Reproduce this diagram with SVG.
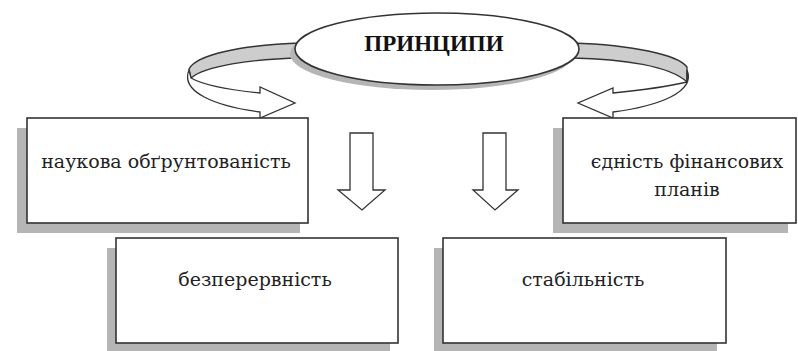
<svg xmlns="http://www.w3.org/2000/svg" width="798" height="351" viewBox="0 0 798 351">
<style>
.box{fill:#fff;stroke:#333;stroke-width:1.6}
.shadow{fill:#b5b5b5}
.arr{fill:#fff;stroke:#333;stroke-width:1.3;stroke-linejoin:miter}
.back{fill:#cdcdcd;stroke:#333;stroke-width:1.3}
.t{font-family:"DejaVu Serif","Liberation Serif",serif;font-size:19px;fill:#222;text-anchor:middle}
.title{font-family:"Liberation Serif","Times New Roman",serif;font-size:23px;font-weight:bold;fill:#111;text-anchor:middle}
</style>
<rect width="798" height="351" fill="#fff"/>
<g id="connectors">
  <path class="back" d="M 302 43 C 240 45 196 55 189 69 L 191 78 C 205 66 250 59 302 58 Z"/>
  <path class="arr" d="M 189 70 C 180 92 215 106 260 112 L 260 118 L 295 103 L 260 87 L 260 93 C 230 90 205 86 191 78 Z"/>
  <path class="back" d="M 572 43 C 634 45 678 55 687 67 L 687 82 C 670 66 624 59 572 58 Z"/>
  <path class="arr" d="M 687 70 C 696 92 659 106 613 112 L 613 118 L 578 103 L 613 88 L 613 93 C 643 90 670 86 687 82 Z"/>
  <polygon class="arr" points="350,133 373,133 373,190 385,190 362,210 338,190 350,190"/>
  <polygon class="arr" points="483,133 506,133 506,190 518,190 495,210 473,190 483,190"/>
</g>
<g id="principles">
  <ellipse cx="432" cy="54" rx="142" ry="36" class="shadow"/>
  <ellipse cx="437" cy="49" rx="142" ry="36" class="box"/>
  <text class="title" x="434" y="51">ПРИНЦИПИ</text>
</g>
<g id="node-science">
  <rect class="shadow" x="17" y="128" width="283" height="105"/>
  <rect class="box" x="27" y="118" width="281" height="105"/>
  <text class="t" x="166" y="168">наукова обґрунтованість</text>
</g>
<g id="node-unity">
  <rect class="shadow" x="553" y="128" width="235" height="105"/>
  <rect class="box" x="563" y="118" width="233" height="105"/>
  <text class="t" x="687" y="168">єдність фінансових</text>
  <text class="t" x="687" y="196">планів</text>
</g>
<g id="node-continuity">
  <rect class="shadow" x="107" y="248" width="283" height="105"/>
  <rect class="box" x="116" y="238" width="282" height="105"/>
  <text class="t" x="255" y="286">безперервність</text>
</g>
<g id="node-stability">
  <rect class="shadow" x="434" y="248" width="283" height="105"/>
  <rect class="box" x="443" y="238" width="283" height="105"/>
  <text class="t" x="583" y="286">стабільність</text>
</g>
</svg>
